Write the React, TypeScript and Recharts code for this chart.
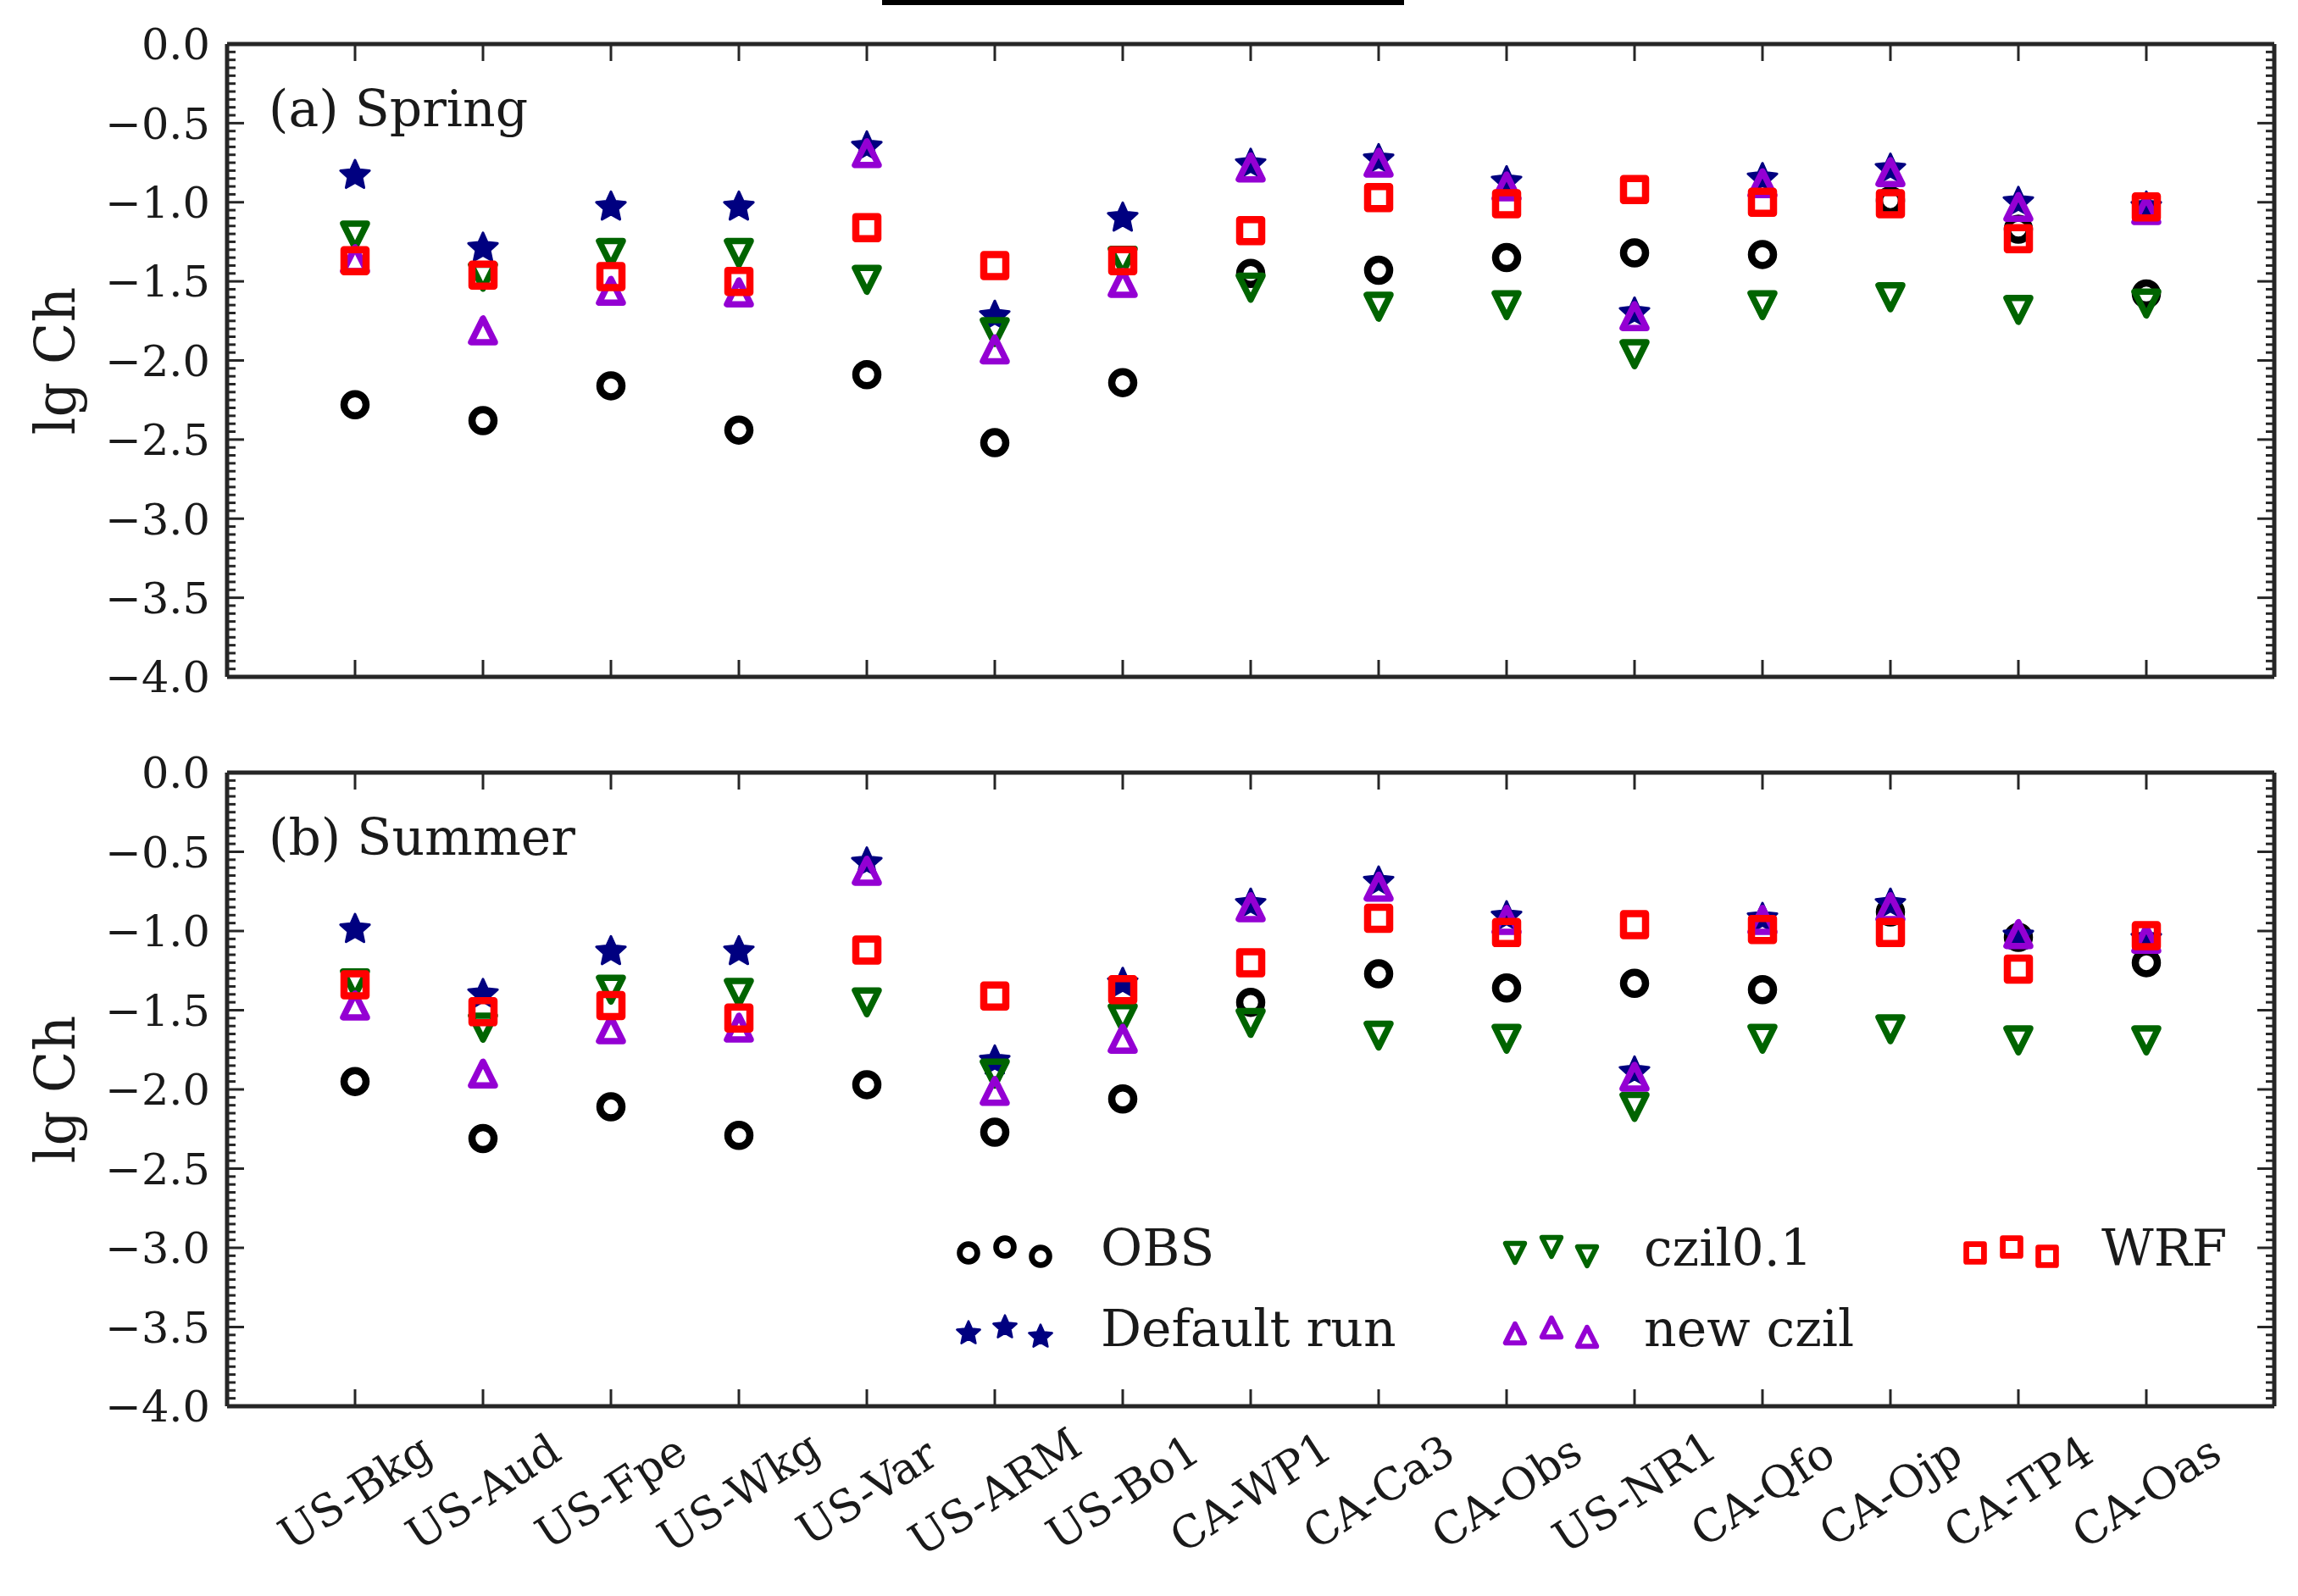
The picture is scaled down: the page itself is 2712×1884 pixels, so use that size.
import React from "react";
import { ScatterChart, Scatter, XAxis, YAxis, Legend } from "recharts";

const SITES = [
  "US-Bkg", "US-Aud", "US-Fpe", "US-Wkg", "US-Var", "US-ARM", "US-Bo1", "CA-WP1",
  "CA-Ca3", "CA-Obs", "US-NR1", "CA-Qfo", "CA-Ojp", "CA-TP4", "CA-Oas",
];

// (a) Spring, lg Ch per site
const SPRING_OBS = [-2.28, -2.38, -2.16, -2.44, -2.09, -2.52, -2.14, -1.45, -1.43, -1.35, -1.32, -1.33, -0.99, -1.17, -1.58];
const SPRING_DEFAULT = [-0.83, -1.29, -1.03, -1.03, -0.65, -1.72, -1.1, -0.76, -0.73, -0.87, -1.7, -0.85, -0.79, -1.0, -1.03];
const SPRING_CZIL01 = [-1.21, -1.47, -1.32, -1.32, -1.49, -1.82, -1.37, -1.54, -1.66, -1.65, -1.96, -1.65, -1.6, -1.68, -1.64];
const SPRING_NEWCZIL = [-1.36, -1.81, -1.56, -1.57, -0.69, -1.93, -1.51, -0.78, -0.75, -0.9, -1.72, -0.88, -0.81, -1.03, -1.05];
const SPRING_WRF = [-1.37, -1.46, -1.47, -1.5, -1.16, -1.4, -1.37, -1.18, -0.97, -1.01, -0.92, -1.0, -1.01, -1.23, -1.03];

// (b) Summer
const SUMMER_OBS = [-1.95, -2.31, -2.11, -2.29, -1.97, -2.27, -2.06, -1.45, -1.27, -1.36, -1.33, -1.37, -0.88, -1.04, -1.2];
const SUMMER_DEFAULT = [-0.99, -1.4, -1.13, -1.13, -0.57, -1.82, -1.33, -0.83, -0.69, -0.91, -1.89, -0.92, -0.83, -1.03, -1.05];
const SUMMER_CZIL01 = [-1.33, -1.61, -1.37, -1.39, -1.45, -1.9, -1.55, -1.58, -1.66, -1.68, -2.11, -1.68, -1.62, -1.69, -1.69];
const SUMMER_NEWCZIL = [-1.47, -1.9, -1.62, -1.61, -0.62, -2.01, -1.68, -0.85, -0.72, -0.93, -1.92, -0.93, -0.85, -1.02, -1.05];
const SUMMER_WRF = [-1.34, -1.51, -1.47, -1.55, -1.12, -1.41, -1.37, -1.2, -0.92, -1.01, -0.96, -0.99, -1.01, -1.24, -1.03];

const SERIES_NAMES = ["OBS", "Default run", "czil0.1", "new czil", "WRF"];
const SERIES_COLORS = ["#000000", "#000080", "#006400", "#9400d3", "#ff0000"];
const SERIES_MARKERS = ["circle", "star", "triangleDown", "triangleUp", "square"];

const SPRING = [SPRING_OBS, SPRING_DEFAULT, SPRING_CZIL01, SPRING_NEWCZIL, SPRING_WRF];
const SUMMER = [SUMMER_OBS, SUMMER_DEFAULT, SUMMER_CZIL01, SUMMER_NEWCZIL, SUMMER_WRF];

const Y_TICKS = Array.from({ length: 81 }, (_, i) => Math.round((-4 + i * 0.05) * 100) / 100);
const X_TICKS = SITES.map((_, i) => i);

const FONT = "'DejaVu Serif', serif";
const INK = "#1a1a1a";
const SPINE = "#262626";

const isMajor = (v: number) => Math.abs(v * 2 - Math.round(v * 2)) < 1e-6;
const fmt = (v: number) => (Math.abs(v) < 1e-9 ? "0.0" : v.toFixed(1).replace("-", "\u2212"));

function starPath(cx: number, cy: number, R: number, r: number) {
  let d = "";
  for (let i = 0; i < 10; i++) {
    const rad = i % 2 === 0 ? R : r;
    const a = -Math.PI / 2 + (i * Math.PI) / 5;
    d += (i ? "L" : "M") + (cx + rad * Math.cos(a)).toFixed(2) + "," + (cy + rad * Math.sin(a)).toFixed(2);
  }
  return d + "Z";
}

function Marker({ kind, color, cx, cy, s = 1 }: { kind: string; color: string; cx: number; cy: number; s?: number }) {
  if (cx == null || cy == null) return null;
  switch (kind) {
    case "circle":
      return <circle cx={cx} cy={cy} r={13 * s} fill="none" stroke={color} strokeWidth={8.5 * s} />;
    case "star":
      return (
        <path d={starPath(cx, cy, 18 * s, 8.5 * s)} fill={color} stroke={color} strokeWidth={3 * s} strokeLinejoin="round" />
      );
    case "triangleDown": {
      const a = 14 * s;
      return (
        <path
          d={`M${cx},${cy + a}L${cx - a},${cy - a}L${cx + a},${cy - a}Z`}
          fill="none"
          stroke={color}
          strokeWidth={7.5 * s}
          strokeLinejoin="round"
        />
      );
    }
    case "triangleUp": {
      const a = 14 * s;
      return (
        <path
          d={`M${cx},${cy - a}L${cx - a},${cy + a}L${cx + a},${cy + a}Z`}
          fill="none"
          stroke={color}
          strokeWidth={7.5 * s}
          strokeLinejoin="round"
        />
      );
    }
    default: {
      const h = 13 * s;
      return (
        <rect x={cx - h} y={cy - h} width={2 * h} height={2 * h} fill="none" stroke={color} strokeWidth={8.5 * s} strokeLinejoin="round" />
      );
    }
  }
}

function LeftTick({ x, y, payload }: any) {
  const major = isMajor(payload.value);
  return (
    <g>
      <line x1={x} x2={x + (major ? 20 : 10)} y1={y} y2={y} stroke={SPINE} strokeWidth={3} />
      {major && (
        <text x={x - 20} y={y} dy="0.36em" textAnchor="end" fontSize={51} fontFamily={FONT} fill={INK}>
          {fmt(payload.value)}
        </text>
      )}
    </g>
  );
}

function RightTick({ x, y, payload }: any) {
  const major = isMajor(payload.value);
  return <line x1={x} x2={x - (major ? 20 : 10)} y1={y} y2={y} stroke={SPINE} strokeWidth={3} />;
}

function TopTick({ x, y }: any) {
  return <line x1={x} x2={x} y1={y} y2={y + 20} stroke={SPINE} strokeWidth={3} />;
}

function makeBottomTick(showLabels: boolean) {
  return function BottomTick({ x, y, payload }: any) {
    const ly = y + 101;
    return (
      <g>
        <line x1={x} x2={x} y1={y} y2={y - 20} stroke={SPINE} strokeWidth={3} />
        {showLabels && (
          <text
            x={x}
            y={ly}
            dy="0.35em"
            textAnchor="middle"
            transform={`rotate(-33 ${x} ${ly})`}
            fontSize={52}
            fontFamily={FONT}
            fill={INK}
          >
            {SITES[payload.value]}
          </text>
        )}
      </g>
    );
  };
}

function LegendBox() {
  const cols = [
    { mx: 43, tx: 199 },
    { mx: 688, tx: 840 },
    { mx: 1231, tx: 1380 },
  ];
  const rows = [52, 147];
  // matplotlib-style legend: ncol=3, filled column by column
  const slots = [
    [0, 0],
    [0, 1],
    [1, 0],
    [1, 1],
    [2, 0],
  ];
  const offsets = [
    [0, 7],
    [43, 0],
    [85, 11],
  ];
  return (
    <svg width={1600} height={200} style={{ overflow: "visible" }}>
      {SERIES_NAMES.map((name, i) => {
        const [c, r] = slots[i];
        const cy = rows[r];
        return (
          <g key={name}>
            {offsets.map(([dx, dy], k) => (
              <Marker key={k} kind={SERIES_MARKERS[i]} color={SERIES_COLORS[i]} cx={cols[c].mx + dx} cy={cy + dy} s={0.8} />
            ))}
            <text x={cols[c].tx} y={cy + 22} fontSize={60} fontFamily={FONT} fill={INK}>
              {name}
            </text>
          </g>
        );
      })}
    </svg>
  );
}

function Panel({ values, height, bottom, showLabels, legend }: any) {
  return (
    <ScatterChart width={2712} height={height} margin={{ top: 51, right: 27, bottom: bottom - 1, left: 267 }}>
      <XAxis
        xAxisId="b"
        type="number"
        dataKey="x"
        domain={[-1, 15]}
        ticks={X_TICKS}
        interval={0}
        height={1}
        tickSize={0}
        tickMargin={0}
        tickLine={false}
        axisLine={{ stroke: SPINE, strokeWidth: 5 }}
        tick={makeBottomTick(showLabels)}
        allowDataOverflow
      />
      <XAxis
        xAxisId="t"
        orientation="top"
        type="number"
        dataKey="x"
        domain={[-1, 15]}
        ticks={X_TICKS}
        interval={0}
        height={1}
        tickSize={0}
        tickMargin={0}
        tickLine={false}
        axisLine={{ stroke: SPINE, strokeWidth: 5 }}
        tick={<TopTick />}
        allowDataOverflow
      />
      <YAxis
        yAxisId="l"
        type="number"
        dataKey="y"
        domain={[-4, 0]}
        ticks={Y_TICKS}
        interval={0}
        width={1}
        tickSize={0}
        tickMargin={0}
        tickLine={false}
        axisLine={{ stroke: SPINE, strokeWidth: 5 }}
        tick={<LeftTick />}
        allowDataOverflow
      />
      <YAxis
        yAxisId="r"
        orientation="right"
        type="number"
        dataKey="y"
        domain={[-4, 0]}
        ticks={Y_TICKS}
        interval={0}
        width={1}
        tickSize={0}
        tickMargin={0}
        tickLine={false}
        axisLine={{ stroke: SPINE, strokeWidth: 5 }}
        tick={<RightTick />}
        allowDataOverflow
      />
      {SERIES_NAMES.map((name, i) => (
        <Scatter
          key={name}
          name={name}
          xAxisId="b"
          yAxisId="l"
          data={values[i].map((v: number, k: number) => ({ x: k, y: v }))}
          isAnimationActive={false}
          shape={(p: any) => <Marker kind={SERIES_MARKERS[i]} color={SERIES_COLORS[i]} cx={p.cx} cy={p.cy} />}
        />
      ))}
      {legend && (
        <Legend
          layout="horizontal"
          verticalAlign="middle"
          align="center"
          content={() => <LegendBox />}
          wrapperStyle={{ left: 1100, top: 560, width: 1600, height: 200 }}
        />
      )}
    </ScatterChart>
  );
}

export default function App() {
  return (
    <div style={{ position: "absolute", left: 0, top: 0, width: 2712, height: 1884, background: "#fff" }}>
      <div style={{ position: "absolute", left: 0, top: 0 }}>
        <Panel values={SPRING} height={860} bottom={61} showLabels={false} legend={false} />
      </div>
      <div style={{ position: "absolute", left: 0, top: 860 }}>
        <Panel values={SUMMER} height={1024} bottom={224} showLabels legend />
      </div>
      <svg
        width={2712}
        height={1884}
        style={{ position: "absolute", left: 0, top: 0, pointerEvents: "none" }}
      >
        <rect x={1041} y={0} width={616} height={6} fill="#000" />
        <text x={317} y={149} fontSize={60} fontFamily={FONT} fill={INK}>
          (a) Spring
        </text>
        <text x={317} y={1009} fontSize={60} fontFamily={FONT} fill={INK}>
          (b) Summer
        </text>
        <text x={88} y={426} transform="rotate(-90 88 426)" textAnchor="middle" fontSize={65} fontFamily={FONT} fill={INK}>
          lg Ch
        </text>
        <text x={88} y={1286} transform="rotate(-90 88 1286)" textAnchor="middle" fontSize={65} fontFamily={FONT} fill={INK}>
          lg Ch
        </text>
      </svg>
    </div>
  );
}
